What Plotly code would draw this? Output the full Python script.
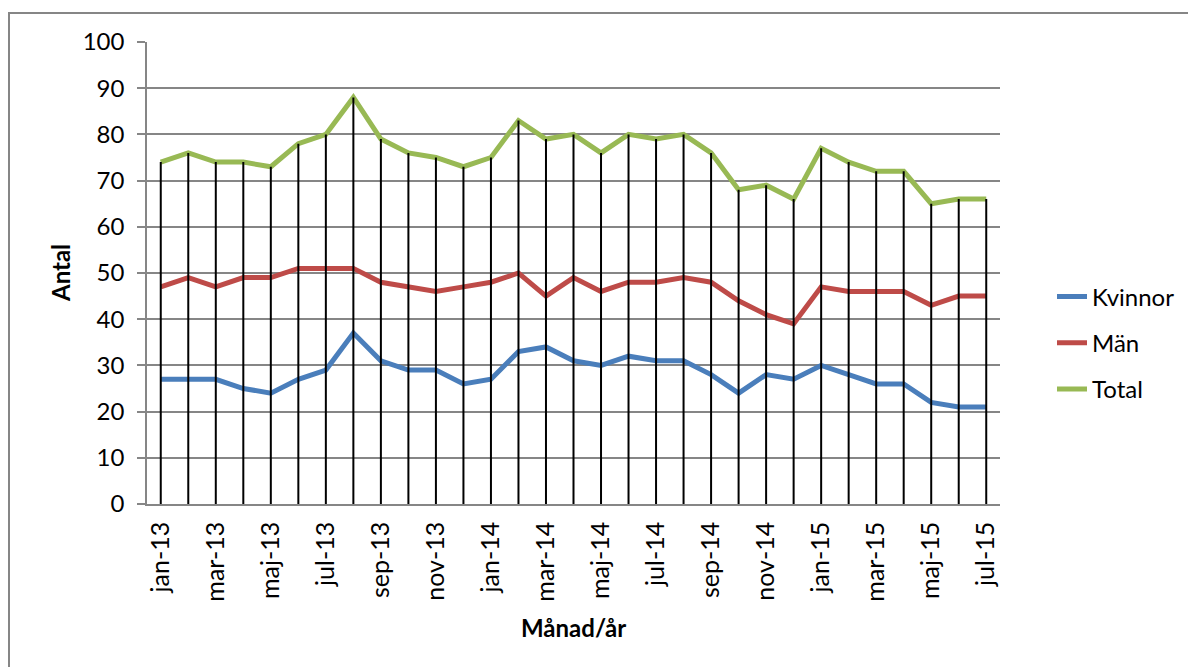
import plotly.graph_objects as go

months = ["jan-13", "feb-13", "mar-13", "apr-13", "maj-13", "jun-13", "jul-13", "aug-13",
          "sep-13", "okt-13", "nov-13", "dec-13", "jan-14", "feb-14", "mar-14", "apr-14",
          "maj-14", "jun-14", "jul-14", "aug-14", "sep-14", "okt-14", "nov-14", "dec-14",
          "jan-15", "feb-15", "mar-15", "apr-15", "maj-15", "jun-15", "jul-15"]
kvinnor = [27, 27, 27, 25, 24, 27, 29, 37, 31, 29, 29, 26, 27, 33, 34, 31,
           30, 32, 31, 31, 28, 24, 28, 27, 30, 28, 26, 26, 22, 21, 21]
man = [47, 49, 47, 49, 49, 51, 51, 51, 48, 47, 46, 47, 48, 50, 45, 49,
       46, 48, 48, 49, 48, 44, 41, 39, 47, 46, 46, 46, 43, 45, 45]
total = [74, 76, 74, 74, 73, 78, 80, 88, 79, 76, 75, 73, 75, 83, 79, 80,
         76, 80, 79, 80, 76, 68, 69, 66, 77, 74, 72, 72, 65, 66, 66]
series_names = ["Kvinnor", "Män", "Total"]
y_ticks = list(range(0, 101, 10))

FONT = "Lato"
FS = 24
colors = ["#4A7EBB", "#BE4B48", "#98B954"]

fig = go.Figure()
for i, (name, vals) in enumerate(zip(series_names, [kvinnor, man, total])):
    fig.add_trace(go.Scatter(x=months, y=vals, name=name, mode="lines",
                             line=dict(color=colors[i], width=5),
                             legendgroup=name))

# drop lines from the highest series down to zero
dx, dy = [], []
for m, t in zip(months, total):
    dx += [m, m, None]
    dy += [0, t, None]
fig.add_trace(go.Scatter(x=dx, y=dy, mode="lines", line=dict(color="black", width=2),
                         showlegend=False, hoverinfo="skip"))

OFF = 8  # default page body margin
W, H = 1196 - OFF, 667 - OFF
L, R, T, B = 147 - OFF, 1000 - OFF, 42 - OFF, 504 - OFF
pw, ph = R - L, B - T

def px(x):
    return (x - OFF - L) / pw

def py(y):
    return (B - (y - OFF)) / ph

fig.update_layout(
    width=W, height=H,
    margin=dict(l=L, r=W - R, t=T, b=H - B, pad=0),
    paper_bgcolor="white", plot_bgcolor="white",
    font=dict(family=FONT, size=FS, color="black"),
    showlegend=True,
    legend=dict(x=px(1052), y=py(343), xanchor="left", yanchor="middle",
                traceorder="grouped", tracegroupgap=12,
                font=dict(family=FONT, size=FS), bgcolor="rgba(0,0,0,0)"),
    xaxis=dict(type="category", categoryorder="array", categoryarray=months,
               range=[-0.5, len(months) - 0.5],
               tickmode="array", tickvals=months[::2], ticktext=months[::2],
               tickangle=-90, showgrid=False, showline=True, linecolor="#868686",
               linewidth=1.5, ticks="", zeroline=False, ticklabelstandoff=6,
               tickfont=dict(family=FONT, size=25)),
    yaxis=dict(range=[0, 100], tickmode="array", tickvals=y_ticks,
               showgrid=True, gridcolor="#868686", gridwidth=1.5,
               showline=True, linecolor="#868686", linewidth=1.5,
               ticks="outside", ticklen=8, tickcolor="#868686", tickwidth=1.5,
               zeroline=False, ticklabelstandoff=8,
               tickfont=dict(family=FONT, size=FS)),
    annotations=[
        dict(text="<b>Antal</b>", x=px(60), y=0.5, xref="paper", yref="paper",
             xanchor="center", yanchor="middle",
             textangle=-90, showarrow=False, font=dict(family=FONT, size=FS)),
        dict(text="<b>Månad/år</b>", x=px(573), y=py(627), xref="paper", yref="paper",
             xanchor="center", yanchor="middle",
             showarrow=False, font=dict(family=FONT, size=FS)),
    ],
    shapes=[dict(type="rect", xref="paper", yref="paper",
                 x0=px(9), x1=px(1210), y0=py(680), y1=py(13),
                 line=dict(color="#868686", width=2), fillcolor="rgba(0,0,0,0)",
                 layer="below")],
)

fig.write_html("out.html")
